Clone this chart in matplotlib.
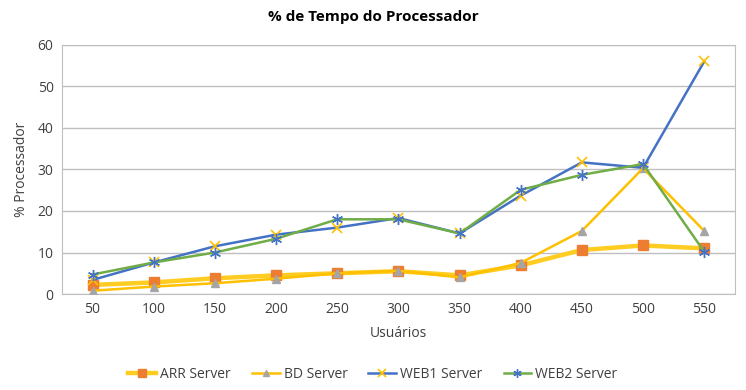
import numpy as np
import matplotlib.pyplot as plt

users = [50, 100, 150, 200, 250, 300, 350, 400, 450, 500, 550]
arr = [2.2, 2.8, 3.8, 4.5, 5.0, 5.5, 4.5, 6.9, 10.6, 11.7, 11.0]
bd = [0.8, 1.8, 2.6, 3.7, 5.0, 5.6, 4.0, 7.5, 15.2, 30.3, 15.2]
web1 = [3.4, 7.6, 11.5, 14.3, 16.0, 18.3, 14.6, 23.7, 31.7, 30.4, 56.0]
web2 = [4.7, 7.6, 10.0, 13.3, 18.0, 18.0, 14.6, 25.1, 28.7, 31.3, 10.2]

plt.rcParams['font.family'] = ['Open Sans', 'DejaVu Sans']

fig, ax = plt.subplots(figsize=(7.46, 3.9), dpi=100)
fig.subplots_adjust(left=0.083, right=0.985, top=0.885, bottom=0.246)

x = np.arange(len(users))
ax.plot(x, arr, color='#FFCC22', lw=3.2, marker='s', ms=7, mfc='#ED7D31', mec='#ED7D31',
        label='ARR Server', zorder=3)
ax.plot(x, bd, color='#FFC000', lw=1.8, marker='^', ms=6, mfc='#A5A5A5', mec='#A5A5A5',
        label='BD Server', zorder=3)
ax.plot(x, web1, color='#4472C4', lw=1.8, marker='x', ms=7, mew=1.2, mec='#FFC000',
        label='WEB1 Server', zorder=4)
ax.plot(x, web2, color='#70AD47', lw=1.8, marker=(6, 2, 0), ms=8, mew=1.0, mec='#4472C4',
        label='WEB2 Server', zorder=4)

ax.set_xlim(-0.5, len(users) - 0.5)
ax.set_ylim(0, 60)
ax.set_yticks(range(0, 61, 10))
ax.set_xticks(x)
ax.set_xticklabels([str(u) for u in users])
ax.tick_params(length=0, labelsize=10, colors='#404040', pad=6)
ax.grid(axis='y', color='#BFBFBF', lw=1)
ax.set_axisbelow(True)
for s in ax.spines.values():
    s.set_color('#BFBFBF')

fig.text(0.5, 1 - 17 / 390, '% de Tempo do Processador', fontsize=11, fontweight='bold',
         color='#000000', ha='center', va='center')
ax.set_xlabel('Usuários', fontsize=10, color='#404040', labelpad=6)
ax.set_ylabel('% Processador', fontsize=10, color='#404040', labelpad=6)

ax.legend(loc='center', bbox_to_anchor=(0.5, 1 - 374 / 390), bbox_transform=fig.transFigure,
          ncol=4, frameon=False, fontsize=10, handlelength=2.0, handletextpad=0.3,
          columnspacing=1.5, markerscale=0.75, labelcolor='#404040')

fig.savefig('out.png', dpi=100)
